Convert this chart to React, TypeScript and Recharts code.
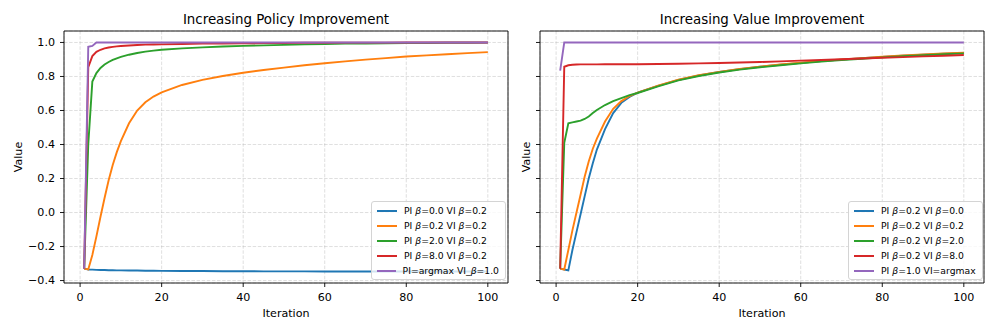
import { LineChart, Line, XAxis, YAxis, CartesianGrid, Legend } from "recharts";

const ITERS = [1, 2, 3, 4, 5, 6, 7, 8, 9, 10, 12, 14, 16, 18, 20, 25, 30, 35, 40, 45, 50, 55, 60, 65, 70, 75, 80, 85, 90, 95, 100];

// Increasing Policy Improvement
const PI_00_VI_02 = [-0.33, -0.335, -0.336, -0.337, -0.338, -0.338, -0.339, -0.339, -0.34, -0.34, -0.341, -0.341, -0.342, -0.342, -0.343, -0.344, -0.344, -0.345, -0.345, -0.346, -0.346, -0.346, -0.347, -0.347, -0.347, -0.347, -0.347, -0.347, -0.347, -0.347, -0.347];
const PI_02_VI_02 = [-0.33, -0.335, -0.25, -0.14, -0.025, 0.085, 0.19, 0.28, 0.355, 0.42, 0.525, 0.6, 0.648, 0.682, 0.707, 0.75, 0.78, 0.803, 0.822, 0.838, 0.852, 0.866, 0.878, 0.889, 0.899, 0.908, 0.917, 0.924, 0.931, 0.937, 0.943];
const PI_20_VI_02 = [-0.33, 0.4, 0.77, 0.82, 0.85, 0.87, 0.885, 0.897, 0.907, 0.915, 0.928, 0.938, 0.946, 0.952, 0.957, 0.965, 0.971, 0.976, 0.98, 0.983, 0.986, 0.989, 0.991, 0.993, 0.994, 0.995, 0.996, 0.997, 0.998, 0.998, 0.999];
const PI_80_VI_02 = [-0.33, 0.855, 0.92, 0.945, 0.957, 0.965, 0.97, 0.974, 0.977, 0.979, 0.982, 0.985, 0.987, 0.988, 0.989, 0.991, 0.993, 0.994, 0.995, 0.996, 0.997, 0.998, 0.998, 0.999, 0.999, 0.999, 1.0, 1.0, 1.0, 1.0, 1.0];
const PI_MAX_VI_10 = [-0.33, 0.975, 0.98, 1.0, 1.0, 1.0, 1.0, 1.0, 1.0, 1.0, 1.0, 1.0, 1.0, 1.0, 1.0, 1.0, 1.0, 1.0, 1.0, 1.0, 1.0, 1.0, 1.0, 1.0, 1.0, 1.0, 1.0, 1.0, 1.0, 1.0, 1.0];

// Increasing Value Improvement
const PI_02_VI_00 = [-0.33, -0.335, -0.34, -0.22, -0.115, -0.01, 0.095, 0.2, 0.29, 0.37, 0.49, 0.585, 0.645, 0.68, 0.705, 0.745, 0.78, 0.806, 0.826, 0.843, 0.857, 0.869, 0.88, 0.89, 0.899, 0.907, 0.915, 0.922, 0.928, 0.934, 0.939];
const PI_02_VI_02b = [-0.33, -0.335, -0.22, -0.105, 0.0, 0.105, 0.21, 0.3, 0.375, 0.435, 0.535, 0.61, 0.655, 0.685, 0.705, 0.746, 0.781, 0.807, 0.827, 0.844, 0.858, 0.87, 0.881, 0.891, 0.9, 0.908, 0.916, 0.923, 0.929, 0.935, 0.94];
const PI_02_VI_20 = [-0.33, 0.41, 0.525, 0.53, 0.535, 0.54, 0.55, 0.565, 0.585, 0.603, 0.632, 0.655, 0.673, 0.69, 0.703, 0.742, 0.777, 0.803, 0.823, 0.84, 0.854, 0.866, 0.877, 0.887, 0.896, 0.904, 0.912, 0.919, 0.925, 0.931, 0.936];
const PI_02_VI_80 = [-0.33, 0.857, 0.866, 0.869, 0.87, 0.871, 0.871, 0.871, 0.871, 0.871, 0.872, 0.872, 0.872, 0.872, 0.872, 0.873, 0.875, 0.877, 0.879, 0.882, 0.885, 0.889, 0.893, 0.897, 0.901, 0.906, 0.91, 0.914, 0.918, 0.922, 0.926];
const PI_10_VI_MAX = [0.835, 1.0, 1.0, 1.0, 1.0, 1.0, 1.0, 1.0, 1.0, 1.0, 1.0, 1.0, 1.0, 1.0, 1.0, 1.0, 1.0, 1.0, 1.0, 1.0, 1.0, 1.0, 1.0, 1.0, 1.0, 1.0, 1.0, 1.0, 1.0, 1.0, 1.0];

const POLICY_NAMES = ["PI β=0.0 VI β=0.2", "PI β=0.2 VI β=0.2", "PI β=2.0 VI β=0.2", "PI β=8.0 VI β=0.2", "PI=argmax VI_β=1.0"];
const VALUE_NAMES = ["PI β=0.2 VI β=0.0", "PI β=0.2 VI β=0.2", "PI β=0.2 VI β=2.0", "PI β=0.2 VI β=8.0", "PI β=1.0 VI=argmax"];

const X_TICKS = [0, 20, 40, 60, 80, 100];
const Y_TICKS = [-0.4, -0.2, 0, 0.2, 0.4, 0.6, 0.8, 1.0];

const COLORS = ["#1f77b4", "#ff7f0e", "#2ca02c", "#d62728", "#9467bd"];

const ALL = [PI_00_VI_02, PI_02_VI_02, PI_20_VI_02, PI_80_VI_02, PI_MAX_VI_10, PI_02_VI_00, PI_02_VI_02b, PI_02_VI_20, PI_02_VI_80, PI_10_VI_MAX];

// matplotlib-style 5% autoscale margins
const xMin = Math.min(...ITERS), xMax = Math.max(...ITERS);
const X_DOMAIN = [xMin - 0.05 * (xMax - xMin), xMax + 0.05 * (xMax - xMin)];
const yLo = Math.min(...ALL.flat()), yHi = Math.max(...ALL.flat());
const Y_DOMAIN = [yLo - 0.05 * (yHi - yLo), yHi + 0.05 * (yHi - yLo)];

const FONT = "'DejaVu Sans', sans-serif";

const fmtY = (v: number) => v.toFixed(1).replace("-", "\u2212");

const EmptyTick = () => <g />;

const renderName = (name: string) => {
  const parts = name.split("β");
  return parts.map((p, i) => (
    <span key={i}>
      {p}
      {i < parts.length - 1 && <i>β</i>}
    </span>
  ));
};

const LegendBox = (props: any) => {
  const payload = props.payload ?? [];
  return (
    <div
      style={{
        border: "1px solid #d4d4d4",
        borderRadius: 3,
        background: "rgba(255,255,255,0.8)",
        padding: "1px 6px 1px 5px",
        fontSize: 9.25,
        fontFamily: FONT,
        color: "#000",
        boxSizing: "border-box",
        width: "100%",
      }}
    >
      {payload.map((p: any) => (
        <div key={p.value} style={{ display: "flex", alignItems: "center", height: 15, whiteSpace: "nowrap" }}>
          <span style={{ display: "inline-block", width: 20, height: 2, background: p.color, marginRight: 7 }} />
          <span>{renderName(p.value)}</span>
        </div>
      ))}
    </div>
  );
};

const yLabel = (dx: number) => (props: any) => {
  const vb = props.viewBox;
  const x = vb.x + dx;
  const y = vb.y + vb.height / 2;
  return (
    <text x={x} y={y} transform={`rotate(-90 ${x} ${y})`} textAnchor="middle" dominantBaseline="central" fontSize={11.1} fill="#000">
      Value
    </text>
  );
};

interface PanelProps {
  title: string;
  series: number[][];
  names: string[];
  width: number;
  yAxisWidth: number;
  showYTicks: boolean;
  labelDx: number;
  legendLeft: number;
}

function Panel({ title, series, names, width, yAxisWidth, showYTicks, labelDx, legendLeft }: PanelProps) {
  const data = ITERS.map((it, i) => {
    const row: Record<string, number> = { it };
    series.forEach((s, k) => (row[`s${k}`] = s[i]));
    return row;
  });
  const axisLine = { stroke: "#000", strokeWidth: 0.9 };
  return (
    <LineChart width={width} height={332} data={data} margin={{ top: 30, right: 11, bottom: 0, left: 0 }}>
      <CartesianGrid stroke="#b0b0b0" strokeOpacity={0.45} strokeWidth={0.9} strokeDasharray="3.5 1.6" />
      <XAxis
        dataKey="it"
        type="number"
        domain={X_DOMAIN}
        ticks={X_TICKS}
        height={49}
        tickSize={4}
        tickMargin={6}
        axisLine={axisLine}
        tickLine={axisLine}
        tick={{ fontSize: 11.1, fill: "#000" }}
        label={{ value: "Iteration", position: "insideBottom", offset: 15.5, fontSize: 11.1, fill: "#000" }}
      />
      <XAxis
        xAxisId="top"
        orientation="top"
        dataKey="it"
        type="number"
        domain={X_DOMAIN}
        height={1}
        tick={false}
        tickLine={false}
        axisLine={axisLine}
        label={{ value: title, position: "top", offset: 6.5, fontSize: 13.4, fill: "#000" }}
      />
      <YAxis
        type="number"
        domain={Y_DOMAIN}
        ticks={Y_TICKS}
        width={yAxisWidth}
        tickSize={4}
        tickMargin={5}
        axisLine={axisLine}
        tickLine={axisLine}
        tick={showYTicks ? { fontSize: 11.1, fill: "#000" } : EmptyTick}
        tickFormatter={fmtY}
        label={yLabel(labelDx)}
      />
      <YAxis yAxisId="right" orientation="right" type="number" domain={Y_DOMAIN} width={1} tick={false} tickLine={false} axisLine={axisLine} />
      {series.map((_, k) => (
        <Line
          key={k}
          dataKey={`s${k}`}
          name={names[k]}
          stroke={COLORS[k]}
          strokeWidth={1.9}
          dot={false}
          activeDot={false}
          type="linear"
          isAnimationActive={false}
        />
      ))}
      <Legend
        layout="horizontal"
        verticalAlign="middle"
        align="center"
        content={LegendBox}
        wrapperStyle={{ left: legendLeft, top: 201, width: 135, height: 76 }}
      />
    </LineChart>
  );
}

export default function App() {
  return (
    <div style={{ position: "absolute", left: 0, top: 0, width: 996, height: 332, background: "#fff", fontFamily: FONT }}>
      <div style={{ position: "absolute", left: 0, top: 0 }}>
        <Panel
          title="Increasing Policy Improvement"
          series={[PI_00_VI_02, PI_02_VI_02, PI_20_VI_02, PI_80_VI_02, PI_MAX_VI_10]}
          names={POLICY_NAMES}
          width={520}
          yAxisWidth={64}
          showYTicks
          labelDx={18}
          legendLeft={371}
        />
      </div>
      <div style={{ position: "absolute", left: 520, top: 0 }}>
        <Panel
          title="Increasing Value Improvement"
          series={[PI_02_VI_00, PI_02_VI_02b, PI_02_VI_20, PI_02_VI_80, PI_10_VI_MAX]}
          names={VALUE_NAMES}
          width={476}
          yAxisWidth={20}
          showYTicks={false}
          labelDx={6}
          legendLeft={328}
        />
      </div>
    </div>
  );
}
